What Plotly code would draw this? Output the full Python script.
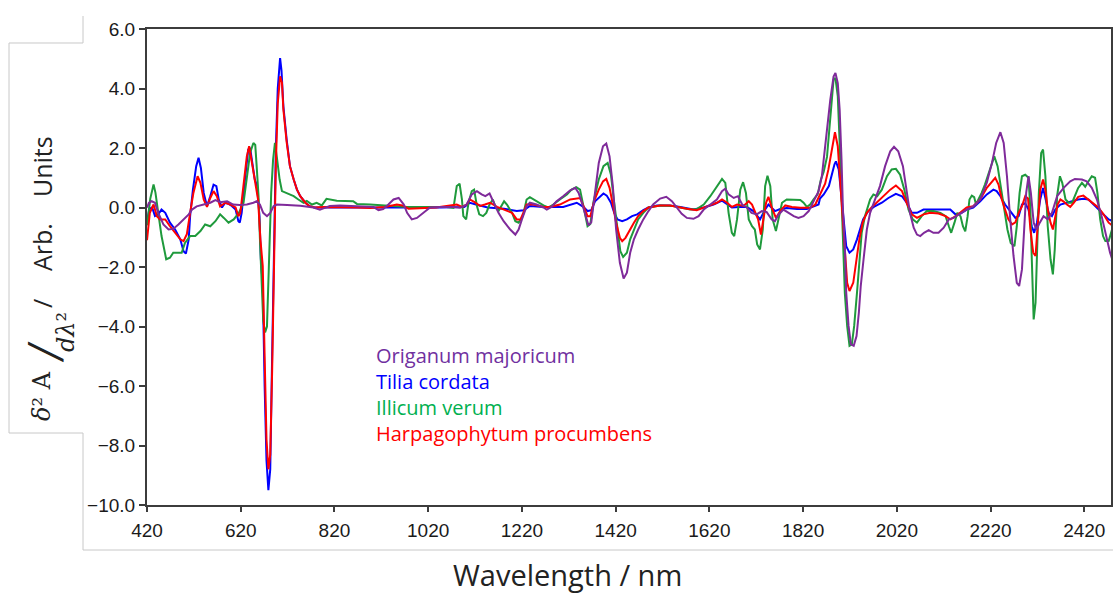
import plotly.graph_objects as go

# ---------------- data ----------------
series_names = ["Origanum majoricum", "Tilia cordata", "Illicum verum", "Harpagophytum procumbens"]
line_colors = ["#7F2A9A", "#0000FF", "#1F9A3C", "#FF0000"]
text_colors = ["#7030A0", "#0000FF", "#00B050", "#FF0000"]

x_ticks = [420, 620, 820, 1020, 1220, 1420, 1620, 1820, 2020, 2220, 2420]
y_ticks = [-10, -8, -6, -4, -2, 0, 2, 4, 6]

wl_tilia = [420, 425, 431, 437, 444, 451, 459, 469, 480, 491, 498, 503, 509, 512, 518, 525, 530, 535, 541, 548,
            555, 562, 568, 573, 580, 587, 594, 601, 609, 615, 618, 622, 629, 636, 640, 645, 650, 655, 660, 663,
            667, 671, 675, 679, 683, 687, 691, 695, 699, 704, 707, 711, 718, 725, 733, 740, 747, 758, 767, 778,
            798, 828, 860, 903, 958, 1047, 1097, 1109, 1122, 1147, 1182, 1209, 1224, 1237, 1266, 1308, 1337, 1351,
            1360, 1368, 1376, 1387, 1394, 1401, 1410, 1417, 1424, 1434, 1444, 1455, 1466, 1479, 1490, 1508, 1535,
            1558, 1586, 1608, 1629, 1647, 1658, 1668, 1683, 1700, 1714, 1728, 1739, 1746, 1760, 1771, 1785, 1807,
            1828, 1842, 1853, 1856, 1864, 1875, 1882, 1887, 1890, 1896, 1901, 1907, 1912, 1919, 1927, 1935, 1941,
            1948, 1959, 1973, 1988, 2002, 2018, 2031, 2041, 2052, 2063, 2077, 2093, 2113, 2134, 2145, 2156, 2169,
            2183, 2198, 2212, 2226, 2233, 2241, 2251, 2262, 2273, 2280, 2287, 2294, 2301, 2308, 2313, 2319, 2326,
            2332, 2337, 2344, 2351, 2358, 2369, 2383, 2397, 2407, 2418, 2429, 2440, 2450, 2461, 2472, 2479]
val_tilia = [-0.5, -0.05, 0.0, -0.29, -0.23, -0.07, -0.18, -0.51, -0.74, -1.07, -1.47, -1.55, -1.07, -0.29, 0.6,
             1.39, 1.67, 1.33, 0.49, 0.04, 0.38, 0.77, 0.72, 0.27, 0.0, 0.16, 0.12, 0.05, -0.07, -0.46, -0.51,
             -0.18, 0.94, 1.95, 2.0, 1.39, 0.94, 0.72, -0.29, -1.74, -2.6, -6.0, -8.5, -9.5, -8.8, -5.0, -1.0, 2.0,
             4.0, 5.02, 4.6, 3.4, 2.28, 1.39, 0.94, 0.6, 0.38, 0.16, 0.04, 0.0, 0.0, 0.0, -0.02, -0.02, 0.0, 0.0,
             0.02, 0.16, 0.1, 0.0, -0.04, -0.12, -0.09, 0.05, 0.02, 0.02, 0.16, 0.02, -0.12, -0.09, 0.21, 0.38,
             0.47, 0.4, 0.16, -0.18, -0.4, -0.46, -0.4, -0.29, -0.23, -0.09, 0.0, 0.07, 0.07, 0.02, -0.07, 0.0,
             0.1, 0.23, 0.1, 0.0, 0.02, 0.02, -0.12, -0.4, -0.07, 0.1, -0.12, -0.05, -0.02, -0.05, -0.05, 0.02,
             0.1, 0.3, 0.44, 0.72, 1.2, 1.45, 1.55, 1.28, 0.49, -0.63, -1.3, -1.52, -1.41, -1.07, -0.74, -0.4,
             -0.12, 0.04, 0.16, 0.32, 0.46, 0.38, 0.16, -0.18, -0.18, -0.07, -0.07, -0.07, -0.07, -0.23, -0.2,
             -0.07, 0.0, 0.21, 0.44, 0.6, 0.55, 0.38, 0.1, -0.12, -0.35, -0.29, 0.1, 0.14, -0.07, -0.63, -0.85,
             -0.51, 0.27, 0.66, 0.32, -0.18, -0.29, -0.07, 0.1, 0.16, 0.21, 0.27, 0.29, 0.27, 0.1, -0.07, -0.23,
             -0.4, -0.45]

wl_harpago = [420, 426, 434, 441, 448, 459, 469, 480, 491, 498, 505, 512, 519, 528, 534, 541, 548, 555, 562, 569,
              576, 587, 598, 609, 615, 619, 625, 633, 638, 643, 650, 657, 662, 667, 671, 675, 679, 683, 687, 691,
              695, 699, 704, 708, 711, 718, 725, 733, 740, 747, 758, 767, 778, 798, 828, 868, 896, 928, 953, 965,
              978, 998, 1037, 1081, 1092, 1102, 1109, 1119, 1131, 1141, 1152, 1167, 1181, 1199, 1209, 1217, 1223,
              1230, 1244, 1266, 1280, 1301, 1323, 1341, 1344, 1353, 1360, 1366, 1374, 1384, 1393, 1400, 1407, 1414,
              1421, 1429, 1434, 1441, 1450, 1459, 1468, 1479, 1490, 1515, 1536, 1550, 1572, 1593, 1608, 1622, 1636,
              1647, 1658, 1668, 1679, 1693, 1704, 1711, 1717, 1724, 1730, 1735, 1741, 1746, 1753, 1762, 1771, 1782,
              1796, 1814, 1835, 1846, 1856, 1867, 1874, 1882, 1888, 1894, 1899, 1904, 1908, 1914, 1919, 1927, 1934,
              1940, 1947, 1956, 1966, 1977, 1991, 2006, 2018, 2031, 2041, 2052, 2063, 2077, 2091, 2109, 2124, 2134,
              2145, 2156, 2169, 2183, 2198, 2212, 2223, 2230, 2237, 2244, 2251, 2258, 2266, 2273, 2280, 2287, 2294,
              2300, 2305, 2311, 2316, 2321, 2326, 2332, 2337, 2342, 2348, 2353, 2358, 2363, 2369, 2376, 2383, 2390,
              2397, 2407, 2418, 2429, 2440, 2450, 2461, 2472, 2479]
val_harpago = [-1.1, -0.18, 0.1, -0.29, -0.4, -0.4, -0.63, -0.85, -1.07, -1.13, -0.9, -0.18, 0.49, 1.05, 0.83,
               0.27, 0.02, 0.32, 0.55, 0.38, 0.04, 0.16, 0.1, 0.0, -0.29, -0.2, 0.72, 1.72, 2.06, 1.61, 0.94, 0.27,
               -1.07, -1.97, -5.0, -7.8, -8.8, -8.3, -5.5, -1.5, 1.5, 3.5, 4.41, 4.2, 3.3, 2.2, 1.39, 0.94, 0.6,
               0.38, 0.16, 0.04, 0.0, 0.02, 0.02, 0.0, -0.02, 0.02, 0.1, 0.07, -0.04, -0.02, 0.0, 0.1, 0.02, 0.1,
               0.27, 0.18, 0.05, 0.1, 0.16, 0.02, -0.07, -0.18, -0.4, -0.4, -0.18, 0.1, 0.1, 0.02, 0.02, 0.1, 0.27,
               0.32, 0.32, -0.01, -0.29, -0.29, 0.21, 0.6, 0.88, 0.96, 0.66, 0.1, -0.51, -1.02, -1.13, -1.02, -0.74,
               -0.51, -0.29, -0.12, 0.0, 0.07, 0.07, 0.02, -0.04, -0.09, 0.0, 0.1, 0.16, 0.27, 0.16, 0.02, 0.1, 0.05,
               0.21, 0.1, -0.12, -0.4, -0.91, -0.4, 0.16, 0.36, 0.0, -0.35, -0.12, 0.07, 0.02, -0.01, -0.01, 0.1,
               0.45, 0.8, 1.28, 2.06, 2.53, 2.06, 0.94, -0.18, -1.3, -2.53, -2.81, -2.53, -1.74, -1.07, -0.51,
               -0.18, 0.0, 0.16, 0.38, 0.6, 0.74, 0.55, 0.16, -0.23, -0.35, -0.23, -0.18, -0.2, -0.29, -0.4, -0.3,
               -0.15, 0.0, 0.04, 0.27, 0.66, 0.88, 1.0, 0.77, 0.27, -0.07, -0.4, -0.57, -0.5, -0.18, 0.04, 0.38,
               0.3, -0.74, -1.52, -1.63, -0.63, 0.6, 0.94, 0.6, -0.07, -0.51, -0.74, -0.3, 0.1, 0.27, 0.2, 0.1,
               0.02, 0.15, 0.36, 0.4, 0.27, 0.13, 0.0, -0.23, -0.51, -0.6]

wl_illicum = [420, 427, 434, 438, 444, 451, 461, 469, 476, 494, 501, 512, 523, 534, 544, 555, 566, 576, 584, 594,
              605, 616, 626, 634, 640, 647, 651, 654, 658, 661, 665, 668, 672, 676, 680, 685, 689, 693, 697, 703,
              708, 718, 733, 743, 754, 761, 772, 782, 793, 803, 814, 825, 860, 868, 896, 939, 975, 1024, 1059, 1074,
              1081, 1087, 1092, 1095, 1101, 1106, 1113, 1118, 1124, 1129, 1137, 1144, 1151, 1158, 1163, 1170, 1177,
              1182, 1188, 1199, 1206, 1213, 1222, 1230, 1237, 1251, 1266, 1276, 1287, 1301, 1316, 1326, 1336, 1344,
              1351, 1360, 1366, 1373, 1384, 1394, 1403, 1410, 1416, 1423, 1430, 1436, 1444, 1451, 1460, 1468, 1479,
              1490, 1515, 1543, 1558, 1579, 1593, 1608, 1622, 1636, 1647, 1654, 1661, 1668, 1673, 1679, 1686, 1692,
              1698, 1704, 1711, 1717, 1722, 1728, 1734, 1739, 1744, 1750, 1755, 1762, 1767, 1775, 1785, 1800, 1814,
              1821, 1828, 1835, 1842, 1851, 1858, 1864, 1871, 1878, 1885, 1889, 1894, 1898, 1902, 1905, 1909, 1914,
              1919, 1924, 1929, 1935, 1941, 1945, 1952, 1963, 1970, 1978, 1988, 1999, 2009, 2018, 2027, 2036, 2045,
              2054, 2063, 2073, 2084, 2098, 2113, 2124, 2131, 2136, 2143, 2149, 2156, 2161, 2166, 2171, 2175, 2180,
              2185, 2189, 2194, 2201, 2208, 2216, 2223, 2228, 2235, 2242, 2249, 2256, 2263, 2271, 2276, 2282, 2287,
              2294, 2301, 2305, 2308, 2312, 2316, 2319, 2323, 2328, 2332, 2337, 2342, 2348, 2353, 2357, 2362, 2368,
              2373, 2380, 2387, 2394, 2400, 2407, 2415, 2422, 2429, 2436, 2443, 2448, 2454, 2460, 2465, 2472, 2479]
val_illicum = [-0.6, 0.3, 0.77, 0.5, -0.18, -0.96, -1.74, -1.69, -1.52, -1.52, -1.19, -0.96, -0.96, -0.79, -0.57,
               -0.63, -0.46, -0.23, -0.35, -0.51, -0.4, -0.18, 0.16, 1.16, 1.83, 2.17, 2.1, 1.39, 0.38, -1.07, -2.5,
               -3.8, -4.2, -4.0, -2.0, 0.5, 1.6, 2.17, 1.7, 0.94, 0.55, 0.49, 0.38, 0.27, 0.16, 0.22, 0.1, 0.16,
               0.07, 0.29, 0.27, 0.23, 0.21, 0.12, 0.1, 0.06, 0.02, 0.02, 0.02, -0.01, 0.72, 0.8, 0.27, -0.29, -0.4,
               0.16, 0.55, 0.6, 0.05, -0.23, -0.29, -0.18, 0.1, 0.27, 0.05, -0.12, 0.05, 0.21, 0.1, -0.18, -0.46,
               -0.51, -0.29, 0.27, 0.35, 0.21, 0.07, 0.0, 0.1, 0.27, 0.44, 0.6, 0.68, 0.6, 0.05, -0.63, -0.55, 0.21,
               0.94, 1.39, 1.5, 1.1, 0.27, -0.63, -1.47, -1.66, -1.52, -1.07, -0.68, -0.4, -0.18, 0.0, 0.07, 0.05,
               0.0, -0.07, -0.05, 0.1, 0.38, 0.72, 0.96, 0.83, -0.18, -0.85, -0.96, -0.4, 0.6, 0.85, 0.49, -0.4,
               -0.63, -0.74, -1.24, -1.41, -0.74, 0.72, 1.07, 0.72, -0.4, -0.79, -0.4, 0.16, 0.27, 0.27, 0.25, 0.16,
               0.02, 0.1, 0.27, 0.44, 0.94, 1.2, 1.7, 3.0, 4.3, 4.35, 3.74, 2.17, 0.49, -1.3, -2.86, -3.98, -4.65,
               -4.6, -3.98, -2.86, -1.74, -0.85, -0.29, 0.27, 0.44, 0.38, 0.6, 1.05, 1.28, 1.3, 1.1, 0.6, -0.07,
               -0.4, -0.51, -0.29, -0.12, -0.12, -0.18, -0.29, -0.63, -0.85, -0.51, -0.18, -0.3, -0.63, -0.8, -0.3,
               0.27, 0.4, 0.35, 0.1, 0.27, 0.49, 0.77, 1.16, 1.5, 1.72, 1.39, 0.72, -0.07, -0.74, -1.19, -1.3,
               -0.63, 0.49, 1.05, 1.1, 1.0, -0.07, -1.74, -3.76, -3.2, -1.19, 0.49, 1.83, 1.95, 1.05, -0.63, -1.74,
               -2.25, -1.41, 0.38, 1.05, 0.83, 0.27, 0.16, 0.16, 0.38, 0.66, 0.83, 0.7, 0.88, 1.05, 1.0, 0.49, -0.4,
               -0.96, -1.13, -1.13, -0.75]

wl_origanum = [420, 424, 430, 437, 444, 455, 466, 476, 487, 498, 509, 516, 526, 541, 555, 566, 576, 591, 604, 618,
               633, 647, 654, 661, 668, 676, 683, 690, 697, 719, 747, 775, 789, 798, 810, 832, 882, 903, 914, 924,
               935, 946, 957, 968, 975, 985, 996, 1009, 1024, 1045, 1074, 1088, 1102, 1113, 1124, 1134, 1142, 1151,
               1159, 1170, 1181, 1195, 1206, 1213, 1220, 1230, 1237, 1251, 1266, 1273, 1283, 1294, 1308, 1323, 1334,
               1341, 1348, 1355, 1362, 1368, 1373, 1384, 1393, 1400, 1407, 1414, 1421, 1429, 1437, 1444, 1451, 1459,
               1468, 1479, 1490, 1500, 1515, 1528, 1540, 1550, 1561, 1572, 1586, 1597, 1608, 1622, 1636, 1647, 1654,
               1661, 1672, 1681, 1690, 1700, 1710, 1721, 1732, 1742, 1753, 1760, 1767, 1778, 1789, 1800, 1810, 1821,
               1832, 1842, 1853, 1860, 1864, 1871, 1878, 1885, 1889, 1894, 1898, 1902, 1905, 1909, 1912, 1917, 1922,
               1928, 1934, 1939, 1943, 1949, 1956, 1963, 1973, 1984, 1995, 2006, 2014, 2023, 2033, 2041, 2048, 2056,
               2063, 2070, 2078, 2088, 2098, 2109, 2120, 2131, 2141, 2156, 2169, 2183, 2198, 2212, 2223, 2232, 2241,
               2248, 2255, 2262, 2269, 2276, 2281, 2287, 2292, 2296, 2301, 2306, 2312, 2318, 2325, 2333, 2342, 2351,
               2362, 2376, 2390, 2400, 2415, 2425, 2436, 2447, 2457, 2468, 2475, 2481]
val_origanum = [0.0, 0.15, 0.21, 0.16, -0.18, -0.57, -0.74, -0.72, -0.57, -0.4, -0.23, -0.07, 0.04, 0.1, 0.16, 0.25,
                0.18, 0.21, 0.1, 0.08, 0.1, 0.16, 0.21, 0.1, -0.18, -0.29, -0.18, 0.04, 0.1, 0.08, 0.06, 0.0, -0.07,
                -0.02, 0.05, 0.07, 0.05, 0.02, -0.09, -0.05, 0.1, 0.27, 0.32, 0.1, -0.18, -0.4, -0.35, -0.18, 0.0,
                0.02, 0.02, -0.01, 0.1, 0.44, 0.55, 0.44, 0.38, 0.47, 0.21, -0.18, -0.46, -0.74, -0.91, -0.74, -0.4,
                0.04, 0.16, 0.1, 0.0, -0.07, 0.02, 0.21, 0.38, 0.58, 0.66, 0.49, 0.16, -0.18, -0.6, -0.5, 0.16, 1.5,
                2.06, 2.15, 1.72, 0.72, -0.74, -1.86, -2.39, -2.19, -1.52, -1.07, -0.74, -0.4, -0.12, 0.1, 0.3, 0.36,
                0.21, 0.0, -0.21, -0.35, -0.38, -0.29, -0.07, 0.1, 0.27, 0.55, 0.63, 0.44, 0.32, 0.38, 0.1, 0.0,
                -0.18, -0.23, -0.12, -0.15, -0.4, -0.46, -0.25, -0.07, -0.18, -0.29, -0.35, -0.29, -0.12, 0.21, 0.55,
                1.05, 1.6, 2.73, 3.62, 4.4, 4.52, 4.18, 3.29, 1.61, -0.07, -1.3, -2.86, -3.98, -4.6, -4.65, -4.32,
                -3.53, -2.64, -1.74, -0.74, -0.18, 0.27, 0.72, 1.39, 1.89, 2.04, 1.89, 1.39, 0.49, -0.18, -0.68,
                -0.91, -0.96, -0.85, -0.76, -0.85, -0.85, -0.68, -0.4, -0.35, -0.2, -0.07, 0.04, 0.27, 0.83, 1.5,
                2.17, 2.53, 2.17, 1.05, -0.4, -1.63, -2.53, -2.64, -2.08, -0.85, 0.49, 1.05, 0.49, -0.51, -0.74,
                -0.51, -0.29, -0.4, -0.18, 0.38, 0.66, 0.88, 0.96, 0.94, 0.88, 0.66, 0.27, -0.29, -1.07, -1.52, -1.8]

wavelengths = [wl_origanum, wl_tilia, wl_illicum, wl_harpago]
values = [val_origanum, val_tilia, val_illicum, val_harpago]

# ---------------- figure ----------------
W, H = 1113, 593
L, R, T, B = 147, 2, 29, 88
PW, PH = W - L - R, H - T - B


def px(xp):
    return (xp - L) / PW


def py(yp):
    return (H - B - yp) / PH


fig = go.Figure()
draw_order = [1, 2, 3, 0]
for i in draw_order:
    fig.add_trace(go.Scatter(
        x=wavelengths[i], y=values[i], mode="lines", name=series_names[i],
        line=dict(color=line_colors[i], width=2), showlegend=False, hoverinfo="skip"))

axis_color = "#3c3c3c"
tick_font = dict(family="Liberation Sans, Arial, sans-serif", size=19, color="#1a1a1a")

fig.update_xaxes(range=[420, 2477], tickvals=x_ticks, ticktext=[str(v) for v in x_ticks],
                 showgrid=False, zeroline=False, showline=True, mirror=True, linecolor=axis_color,
                 linewidth=2, ticks="outside", ticklen=5, tickwidth=2, tickcolor=axis_color,
                 tickfont=tick_font, automargin=False, ticklabelstandoff=2)
fig.update_yaxes(range=[-10, 6], tickvals=y_ticks, tickformat=".1f",
                 showgrid=False, zeroline=False, showline=True, mirror=True, linecolor=axis_color,
                 linewidth=2, ticks="outside", ticklen=6, tickwidth=2, tickcolor=axis_color,
                 tickfont=tick_font, automargin=False, ticklabelstandoff=0)

annotations = []
# legend as coloured text
legend_y = [355, 381, 407, 433]
for k in range(4):
    annotations.append(dict(x=px(374), y=py(legend_y[k]), xref="paper", yref="paper",
                            text=series_names[k], showarrow=False, xanchor="left", yanchor="middle",
                            font=dict(family="Open Sans, sans-serif", size=20, color=text_colors[k])))

title_font = dict(family="Open Sans, sans-serif", size=29, color="#222222")
annotations.append(dict(x=px(567), y=py(574), xref="paper", yref="paper", text="Wavelength / nm",
                        showarrow=False, xanchor="center", yanchor="middle", font=title_font))

# y-axis title pieces (rotated)
ytitle_font = dict(family="Open Sans, sans-serif", size=25, color="#222222")
for word, ycen in [("Units", 167), ("Arb.", 247), ("/", 304)]:
    annotations.append(dict(x=px(42), y=py(ycen), xref="paper", yref="paper", text=word,
                            showarrow=False, xanchor="center", yanchor="middle", textangle=-90,
                            font=ytitle_font))
serif = "DejaVu Serif, serif"
annotations.append(dict(x=px(42), y=py(396), xref="paper", yref="paper", text="<i>δ</i>² A",
                        showarrow=False, xanchor="center", yanchor="middle", textangle=-90,
                        font=dict(family=serif, size=24, color="#222222")))
annotations.append(dict(x=px(44), y=py(352), xref="paper", yref="paper", text="<i>/</i>",
                        showarrow=False, xanchor="center", yanchor="middle", textangle=-90,
                        font=dict(family=serif, size=42, color="#222222")))
annotations.append(dict(x=px(66), y=py(332), xref="paper", yref="paper", text="<i>dλ</i>²",
                        showarrow=False, xanchor="center", yanchor="middle", textangle=-90,
                        font=dict(family=serif, size=24, color="#222222")))

# light grey frame of the figure panels
pts = [(83, 16), (83, 43), (9, 43), (9, 433), (83, 433), (83, 550), (1113, 550)]
path = "M " + " L ".join(f"{px(a):.5f},{py(b):.5f}" for a, b in pts)
shapes = [dict(type="path", path=path, xref="paper", yref="paper",
               line=dict(color="#c8c8c8", width=1))]

fig.update_layout(width=W, height=H, margin=dict(l=L, r=R, t=T, b=B, autoexpand=False),
                  paper_bgcolor="white", plot_bgcolor="white",
                  annotations=annotations, shapes=shapes, showlegend=False)

fig.write_html("out.html", config={"displayModeBar": False},
               post_script="document.body.style.margin='0px';")
